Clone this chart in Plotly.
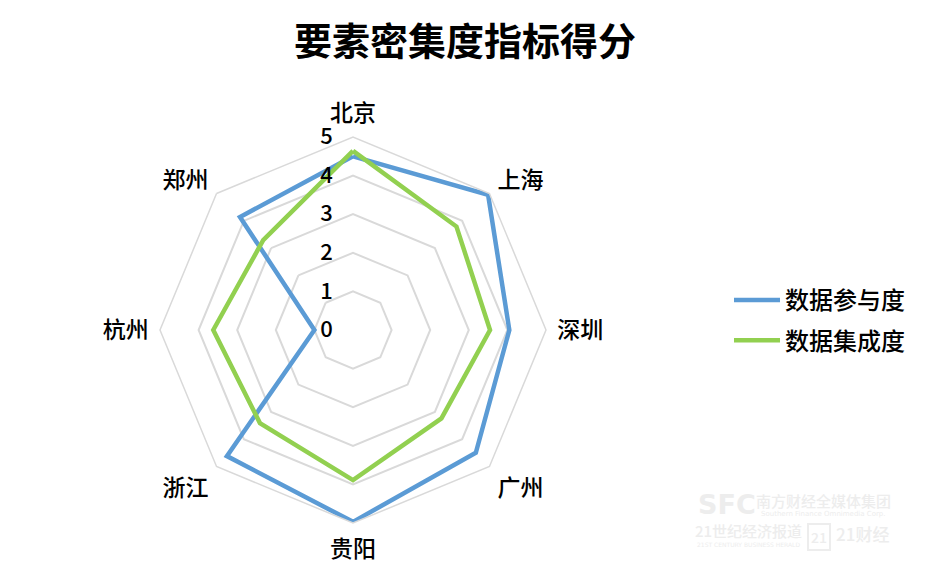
import plotly.graph_objects as go

categories = ["北京", "上海", "深圳", "广州", "贵阳", "浙江", "杭州", "郑州"]
participation = [4.5, 4.95, 4.05, 4.5, 4.97, 4.62, 1.0, 4.14]
integration = [4.64, 3.79, 3.55, 3.24, 3.89, 3.41, 3.62, 3.29]
radial_ticks = [0, 1, 2, 3, 4, 5]

FONT = "Noto Sans CJK SC"
W, H = 929, 585
OFF = 8  # page body margin in the browser


def px(x):
    return (x - OFF) / W


def py(y):
    return 1 - (y - OFF) / H


cx, cy, R = 353, 330, 193

fig = go.Figure()
for i, (name, vals, color) in enumerate([("数据参与度", participation, "#5B9BD5"),
                                         ("数据集成度", integration, "#92D050")]):
    fig.add_trace(go.Scatterpolar(
        r=vals + vals[:1], theta=categories + categories[:1],
        mode="lines", name=name, legendgroup=f"g{i}",
        line=dict(color=color, width=4.5),
    ))

fig.update_layout(
    width=W, height=H,
    margin=dict(l=0, r=0, t=0, b=0),
    paper_bgcolor="white", plot_bgcolor="white",
    font=dict(family=FONT, color="black", size=23, weight=500),
    title=dict(text="<b>要素密集度指标得分</b>", x=px(465), xanchor="center",
               y=py(42), yanchor="middle", font=dict(size=38, family=FONT)),
    polar=dict(
        domain=dict(x=[px(cx - R), px(cx + R)],
                    y=[py(cy + R), py(cy - R)]),
        gridshape="linear",
        bgcolor="white",
        radialaxis=dict(range=[0, 5], tickvals=radial_ticks, angle=90,
                        tickangle=90, showline=False,
                        ticks="outside", ticklen=12, tickcolor="rgba(0,0,0,0)",
                        gridcolor="#D9D9D9", gridwidth=1.5,
                        tickfont=dict(size=22, family=FONT, weight=500),
                        side="counterclockwise"),
        angularaxis=dict(direction="clockwise", rotation=90,
                         showgrid=False, showline=True,
                         linecolor="#D9D9D9", linewidth=1.5,
                         ticks="outside", ticklen=6, tickcolor="rgba(0,0,0,0)",
                         tickfont=dict(size=23, family=FONT, weight=500)),
    ),
    legend=dict(x=px(729), y=py(278), xanchor="left", yanchor="top",
                font=dict(size=24, family=FONT, weight=500), tracegroupgap=6,
                traceorder="grouped", itemwidth=46),
    showlegend=True,
)

# faint watermark
wm = "#EDEDED"


def wm_text(text, x, y, size, family=FONT, **kw):
    fig.add_annotation(text=text, x=px(x), y=py(y), xref="paper", yref="paper",
                       xanchor="center", yanchor="middle", showarrow=False,
                       font=dict(size=size, color=wm, family=family), **kw)


wm_text("<b>SFC</b>", 727, 504, 27, "DejaVu Sans")
wm_text("南方财经全媒体集团", 823, 500, 15)
wm_text("Southern Finance Omnimedia Corp.", 823, 514, 7, "DejaVu Sans")
wm_text("21世纪经济报道", 748, 530, 15)
wm_text("21ST CENTURY BUSINESS HERALD", 748, 544, 6, "DejaVu Sans")
wm_text("21", 819, 537, 14, bordercolor=wm, borderwidth=2, borderpad=2)
wm_text("21财经", 862, 533, 17)

fig.write_html("out.html")
